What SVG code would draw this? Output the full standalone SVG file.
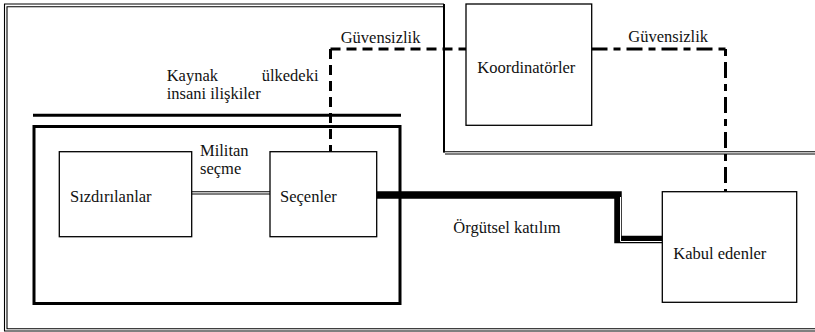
<svg xmlns="http://www.w3.org/2000/svg" width="815" height="332" viewBox="0 0 815 332" font-family="Liberation Serif, Times New Roman, serif" font-size="16.5">
<style>
text{font-family:"Liberation Serif","Times New Roman",Times,serif;font-size:16.5px;fill:#111}
.box{fill:#fff;stroke:#000;stroke-width:1.3}
.thin{fill:none;stroke:#000;stroke-width:1.1}
.thick{fill:none;stroke:#000;stroke-width:3}
.dash{fill:none;stroke:#000;stroke-width:3;stroke-dasharray:10,6}
.dashdot{fill:none;stroke:#000;stroke-width:3;stroke-dasharray:7,6,16,6}
</style>
<rect width="815" height="332" fill="#fff"/>
<g id="frame">
<path class="thin" d="M815,331 H4.5 V4 H444"/>
<path fill="none" stroke="#000" stroke-width="2" d="M444,4 V152.5"/>
<path class="thin" d="M443,151.7 H815"/>
<path class="thin" d="M815,328.8 H7 V6.7 H443"/>
<path class="thin" d="M445,154 H815"/>
</g>
<g id="source-country">
<line class="thick" x1="33" y1="115.3" x2="401" y2="115.3"/>
<rect class="thick" x="34" y="126.5" width="366" height="177"/>
<text x="166.7" y="80.7" font-family="Liberation Serif">Kaynak<tspan x="261.7">ülkedeki</tspan></text>
<text x="166.7" y="99" font-family="Liberation Serif">insani ilişkiler</text>
</g>
<g id="connectors">
<path class="dash" d="M330.5,49 H466 M330.5,49 V152"/>
<path class="dashdot" d="M725.5,49 H592 M725.5,49 V192"/>
<line class="thin" x1="191.7" y1="191.7" x2="270" y2="191.7"/>
<line class="thin" x1="191.7" y1="194" x2="270" y2="194"/>
<path fill="none" stroke="#000" stroke-width="7.5" stroke-linejoin="miter" d="M376.7,195 H618 V239.5 H662"/>
<path fill="none" stroke="#fff" stroke-width="1" d="M620.5,197 V241.5 H662"/>
<text x="200" y="155.5">Militan</text>
<text x="200" y="174">seçme</text>
<text x="340.7" y="42.5">Güvensizlik</text>
<text x="628.3" y="42.3">Güvensizlik</text>
<text x="453.3" y="233.3">Örgütsel katılım</text>
</g>
<g id="sizdirilanlar">
<rect class="box" x="59.3" y="151.7" width="132.4" height="85"/>
<text x="70" y="201.5">Sızdırılanlar</text>
</g>
<g id="secenler">
<rect class="box" x="270" y="151.7" width="106.7" height="85"/>
<text x="280" y="201.5">Seçenler</text>
</g>
<g id="koordinatorler">
<rect class="box" x="466" y="4" width="125.7" height="121.3"/>
<text x="477.3" y="72.7">Koordinatörler</text>
</g>
<g id="kabul-edenler">
<rect class="box" x="662.3" y="191.7" width="134.4" height="110.6"/>
<text x="673.3" y="259">Kabul edenler</text>
</g>
</svg>
